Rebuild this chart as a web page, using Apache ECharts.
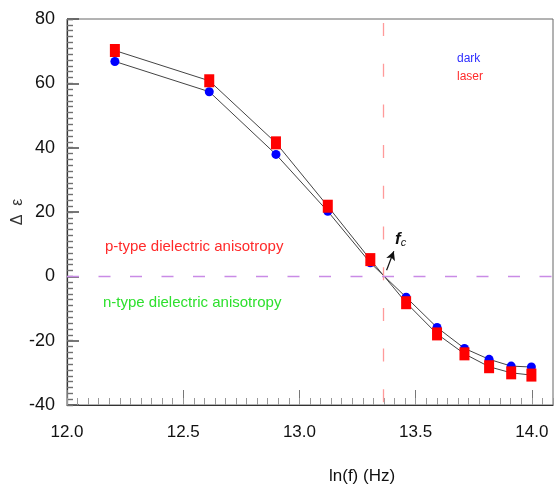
<!DOCTYPE html>
<html>
<head>
<meta charset="utf-8">
<script src="https://cdn.jsdelivr.net/npm/echarts@6/dist/echarts.min.js"></script>
<style>
  html, body { margin: 0; padding: 0; background: #fff; }
  #chart { width: 555px; height: 485px; }
</style>
</head>
<body>
<div id="chart"></div>
<script>
// ---- data ----
const lnF   = [12.206, 12.612, 12.899, 13.122, 13.305, 13.459, 13.592, 13.710, 13.816, 13.911, 13.998];
const dark  = [66.8, 57.4, 37.9, 20.2, 4.2, -6.5, -15.9, -22.4, -25.8, -27.9, -28.2];
const laser = [70.2, 60.8, 41.5, 21.8, 5.2, -8.2, -17.9, -24.1, -28.1, -30.0, -30.7];
const fcX = 13.362;           // crossover frequency line
const xRange = [12, 14 + 1 / 11];
const yRange = [-40, 80];
const xMajor = 0.5, yMajor = 20;
const minorSplit = 11;
const seriesNames = ['dark', 'laser'];
const pType = 'p-type dielectric anisotropy';
const nType = 'n-type dielectric anisotropy';
const xName = 'ln(f) (Hz)';
const yName = 'Δ  ε';

const FONT = "'Liberation Sans', Arial, sans-serif";

const chart = echarts.init(document.getElementById('chart'), null, { renderer: 'canvas' });

const pairs = arr => lnF.map((x, i) => [x, arr[i]]);

const option = {
  animation: false,
  backgroundColor: '#fff',
  grid: {
    left: 67, top: 19, width: 486, height: 386,
    show: true, borderColor: '#666', borderWidth: 1, backgroundColor: 'transparent'
  },
  xAxis: [
    {
      type: 'value', min: xRange[0], max: xRange[1], interval: xMajor,
      axisLine: { show: true, onZero: false, lineStyle: { color: '#333', width: 1.2 } },
      axisTick: { show: true, inside: true, length: 15, lineStyle: { color: '#777', width: 1 } },
      axisLabel: {
        show: true, margin: 19, color: '#111', fontSize: 17, fontFamily: FONT,
        showMaxLabel: false,
        formatter: v => (Math.abs(v - Math.round(v * 2) / 2) < 1e-6 ? v.toFixed(1) : '')
      },
      splitLine: { show: false }
    },
    {
      type: 'value', min: xRange[0], max: xRange[1], interval: xMajor / minorSplit,
      position: 'bottom',
      axisLine: { show: false, onZero: false },
      axisTick: { show: true, inside: true, length: 7, lineStyle: { color: '#999', width: 1 } },
      axisLabel: { show: false },
      splitLine: { show: false }
    }
  ],
  yAxis: [
    {
      type: 'value', min: yRange[0], max: yRange[1], interval: yMajor,
      axisLine: { show: true, onZero: false, lineStyle: { color: '#333', width: 1.2 } },
      axisTick: { show: true, inside: true, length: 12, lineStyle: { color: '#555555', width: 1.6 } },
      axisLabel: { show: true, margin: 12, color: '#111', fontSize: 18, fontFamily: FONT },
      splitLine: { show: false }
    },
    {
      type: 'value', min: yRange[0], max: yRange[1], interval: yMajor / minorSplit,
      position: 'left',
      axisLine: { show: false, onZero: false },
      axisTick: { show: true, inside: true, length: 6, lineStyle: { color: '#707070', width: 1.4 } },
      axisLabel: { show: false },
      splitLine: { show: false }
    }
  ],
  series: [
    {
      name: seriesNames[0], type: 'line', data: pairs(dark),
      symbol: 'circle', symbolSize: 9,
      itemStyle: { color: '#0000ff' },
      lineStyle: { color: '#444', width: 1 },
      z: 3,
      markLine: {
        silent: true, symbol: 'none',
        label: { show: false },
        data: [
          { xAxis: fcX, lineStyle: { color: '#ff9a9a', width: 1.3, type: [13, 27.7], dashOffset: 38 } },
          { yAxis: 0, lineStyle: { color: '#c98be6', width: 1.3, type: [12, 19.5] } }
        ]
      }
    },
    {
      name: seriesNames[1], type: 'line', data: pairs(laser),
      symbol: 'rect', symbolSize: [10, 13],
      itemStyle: { color: '#ff0000' },
      lineStyle: { color: '#444', width: 1 },
      z: 4,
      markLine: {
        silent: true,
        label: { show: false },
        lineStyle: { color: '#111', width: 1.2, type: 'solid' },
        data: [[
          { coord: [13.375, 1.9], symbol: 'none' },
          { coord: [13.406, 7.8], symbol: 'arrow', symbolSize: [7, 9] }
        ]]
      }
    }
  ],
  graphic: [
    { type: 'text', left: 457, top: 53, style: { text: seriesNames[0], fill: '#2e2eff', font: "12px " + FONT } },
    { type: 'text', left: 457, top: 71, style: { text: seriesNames[1], fill: '#ff2a2a', font: "12px " + FONT } },
    { type: 'text', left: 105, top: 239, style: { text: pType, fill: '#ff2a2a', font: "15px " + FONT } },
    { type: 'text', left: 103, top: 295, style: { text: nType, fill: '#2ee02e', font: "15px " + FONT } },
    { type: 'text', left: 329, top: 468, style: { text: xName, fill: '#111', font: "17px " + FONT } },
    {
      type: 'text', x: 18, y: 212, rotation: Math.PI / 2,
      style: { text: yName, fill: '#333', font: "16px " + FONT, textAlign: 'center', textVerticalAlign: 'middle' }
    },
    {
      type: 'text', left: 395, top: 231,
      style: {
        text: '{f|f}{c|c}',
        rich: {
          f: { fontSize: 17, fontWeight: 'bold', fontStyle: 'italic', fill: '#111', fontFamily: FONT },
          c: { fontSize: 11, fontStyle: 'italic', fill: '#111', fontFamily: FONT, padding: [6, 0, 0, 0] }
        }
      }
    }
  ]
};

chart.setOption(option);
</script>
</body>
</html>
